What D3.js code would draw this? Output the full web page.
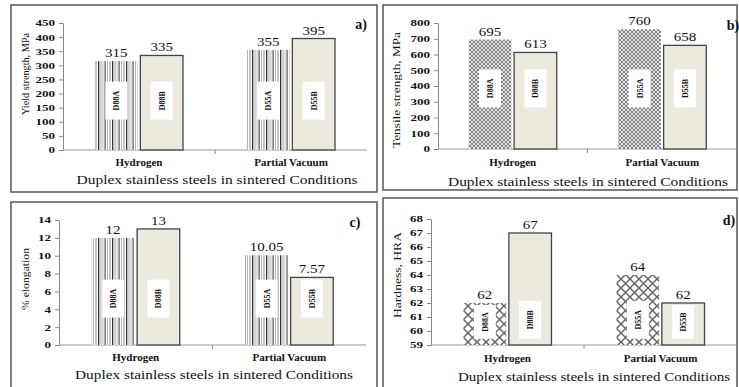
<!DOCTYPE html>
<html><head><meta charset="utf-8">
<script src="https://cdn.jsdelivr.net/npm/d3@7"></script>
<style>
body{margin:0;background:#fff}
svg{display:block}
text{font-family:"Liberation Serif","Times New Roman",serif;fill:#111}
</style>
</head><body><svg id="c" width="739" height="387"></svg>
<script>
// ---- data ----
const categories = ["Hydrogen", "Partial Vacuum"];
const steelLabelsA = ["D88A", "D55A"];
const steelLabelsB = ["D88B", "D55B"];
const yieldA = [315, 355];
const yieldB = [335, 395];
const tensileA = [695, 760];
const tensileB = [613, 658];
const elongA = [12, 10.05];
const elongB = [13, 7.57];
const hardA = [62, 64];
const hardB = [67, 62];
const yieldTicks = [0, 50, 100, 150, 200, 250, 300, 350, 400, 450];
const tensileTicks = [0, 100, 200, 300, 400, 500, 600, 700, 800];
const elongTicks = [0, 2, 4, 6, 8, 10, 12, 14];
const hardTicks = [59, 60, 61, 62, 63, 64, 65, 66, 67, 68];
const xTitle = "Duplex stainless steels in sintered Conditions";
const yTitles = ["Yield strength, MPa", "Tensile strength, MPa", "% elongation", "Hardness, HRA"];
const panelTags = ["a)", "b)", "c)", "d)"];

// ---- layout ----
const panels = [
  {A: yieldA, B: yieldB, ticks: yieldTicks, yTitle: yTitles[0], tag: panelTags[0],
   box: [11, 5, 377, 192], px: [63, 367], py: [150, 23], pat: "stripes", boxV: 175,
   yt: [29, 74, 82], catY: 166, tt: [217, 184, 281], tagPos: [361, 29]},
  {A: tensileA, B: tensileB, ticks: tensileTicks, yTitle: yTitles[1], tag: panelTags[1],
   box: [383, 5, 737, 190], px: [438, 737], py: [149, 23], pat: "hatchFine", boxV: 385,
   yt: [400, 90, 116], catY: 166, tt: [588, 186, 280], tagPos: [733, 30]},
  {A: elongA, B: elongB, ticks: elongTicks, yTitle: yTitles[2], tag: panelTags[2],
   box: [11, 202, 377, 395], px: [59, 366], py: [345, 220], pat: "stripes", boxV: 5.2,
   yt: [29, 279, 62], catY: 361, tt: [214, 379, 278], tagPos: [355, 227]},
  {A: hardA, B: hardB, ticks: hardTicks, yTitle: yTitles[3], tag: panelTags[3],
   box: [383, 198, 737, 395], px: [431, 737], py: [345, 219], pat: "hatchCoarse", boxV: 60.8,
   yt: [401, 275, 86], catY: 362, tt: [594, 381, 272], tagPos: [729, 225]}
];

const svg = d3.select("#c");
const defs = svg.append("defs");

// vertical stripes
const ps = defs.append("pattern").attr("id", "stripes").attr("patternUnits", "userSpaceOnUse")
  .attr("width", 14).attr("height", 4);
ps.append("rect").attr("width", 14).attr("height", 4).attr("fill", "#fff");
[[0, 1.3, "#333"], [2.5, 1, "#aaa"], [4.5, 1, "#c4c4c4"], [6.5, 1.2, "#555"], [9, 1, "#b4b4b4"], [11.5, 1, "#8a8a8a"]]
  .forEach(([x, w, c]) => ps.append("rect").attr("x", x).attr("width", w).attr("height", 4).attr("fill", c));

// fine crosshatch
const pf = defs.append("pattern").attr("id", "hatchFine").attr("patternUnits", "userSpaceOnUse")
  .attr("width", 4).attr("height", 4);
pf.append("rect").attr("width", 4).attr("height", 4).attr("fill", "#e4e4e4");
pf.append("path").attr("d", "M0,0L4,4M4,0L0,4").attr("stroke", "#777").attr("stroke-width", 0.9);

// coarse crosshatch
const pc = defs.append("pattern").attr("id", "hatchCoarse").attr("patternUnits", "userSpaceOnUse")
  .attr("width", 9).attr("height", 9);
pc.append("rect").attr("width", 9).attr("height", 9).attr("fill", "#fff");
pc.append("path").attr("d", "M0,0L9,9M9,0L0,9").attr("stroke", "#666").attr("stroke-width", 1.5);

function stretch(sel, f) {
  sel.each(function () {
    const l = this.getComputedTextLength();
    d3.select(this).attr("textLength", l * f).attr("lengthAdjust", "spacingAndGlyphs");
  });
}

panels.forEach(p => {
  const g = svg.append("g");
  const [bx0, by0, bx1, by1] = p.box;
  g.append("rect").attr("x", bx0).attr("y", by0).attr("width", bx1 - bx0).attr("height", by1 - by0)
    .attr("fill", "#fff").attr("stroke", "#555").attr("stroke-width", 1.5);

  const y = d3.scaleLinear().domain([p.ticks[0], p.ticks[p.ticks.length - 1]]).range(p.py);
  const x0 = d3.scaleBand().domain(categories).range(p.px);
  const x1 = d3.scaleBand().domain(["A", "B"]).range([x0.bandwidth() / 2 - 44, x0.bandwidth() / 2 + 44]).paddingInner(0.06);

  // y axis
  const ya = d3.axisLeft(y).tickValues(p.ticks).tickSize(4).tickSizeOuter(0).tickPadding(4);
  const yg = g.append("g").attr("transform", `translate(${p.px[0]},0)`).call(ya);
  yg.select(".domain").attr("stroke", "#888");
  yg.selectAll(".tick line").attr("stroke", "#888");
  yg.selectAll(".tick text").attr("font-family", "Liberation Serif").attr("font-size", 9)
    .attr("font-weight", "bold").attr("fill", "#111").call(stretch, 1.45);

  // x axis
  const base = p.py[0];
  g.append("line").attr("x1", p.px[0]).attr("x2", p.px[1]).attr("y1", base).attr("y2", base)
    .attr("stroke", "#999").attr("stroke-width", 1);
  g.append("line").attr("x1", x0(categories[1])).attr("x2", x0(categories[1]))
    .attr("y1", base).attr("y2", base + 4).attr("stroke", "#888");

  categories.forEach((c, i) => {
    const series = [
      {k: "A", v: p.A[i], lab: steelLabelsA[i], fill: `url(#${p.pat})`, stroke: "none"},
      {k: "B", v: p.B[i], lab: steelLabelsB[i], fill: "#ece9de", stroke: "#444"}
    ];
    series.forEach(s => {
      const bx = x0(c) + x1(s.k), bw = x1.bandwidth();
      const top = y(s.v);
      g.append("rect").attr("x", bx).attr("y", top).attr("width", bw).attr("height", base - top)
        .attr("fill", s.fill).attr("stroke", s.stroke).attr("stroke-width", 1.3);
      // inner label box (kept inside the bar)
      const cx = bx + bw / 2, cy = y(p.boxV);
      const bt = Math.max(cy - 19, top + 2), bb = Math.min(cy + 19, base - 2);
      g.append("rect").attr("x", cx - 11).attr("y", bt).attr("width", 22).attr("height", bb - bt).attr("fill", "#fff");
      g.append("text").attr("transform", `translate(${cx + 3},${(bt + bb) / 2}) rotate(-90)`).attr("text-anchor", "middle")
        .attr("font-size", 8).attr("font-weight", "bold").text(s.lab);
      // value label
      g.append("text").attr("x", cx).attr("y", top - 4).attr("text-anchor", "middle")
        .attr("font-size", 12).text(String(s.v)).call(stretch, 1.25);
    });
    g.append("text").attr("x", x0(c) + x0.bandwidth() / 2).attr("y", p.catY).attr("text-anchor", "middle")
      .attr("font-size", 10).attr("font-weight", "bold").text(c).call(stretch, 1.1);
  });

  // titles
  g.append("text").attr("x", p.tt[0]).attr("y", p.tt[1]).attr("text-anchor", "middle")
    .attr("font-size", 12).attr("textLength", p.tt[2]).attr("lengthAdjust", "spacingAndGlyphs").text(xTitle);
  g.append("text").attr("transform", `translate(${p.yt[0]},${p.yt[1]}) rotate(-90)`).attr("text-anchor", "middle")
    .attr("font-size", 11).attr("textLength", p.yt[2]).attr("lengthAdjust", "spacingAndGlyphs").text(p.yTitle);
  g.append("text").attr("x", p.tagPos[0]).attr("y", p.tagPos[1]).attr("text-anchor", "middle")
    .attr("font-size", 14).attr("font-weight", "bold").text(p.tag);
});
</script>
</body></html>
